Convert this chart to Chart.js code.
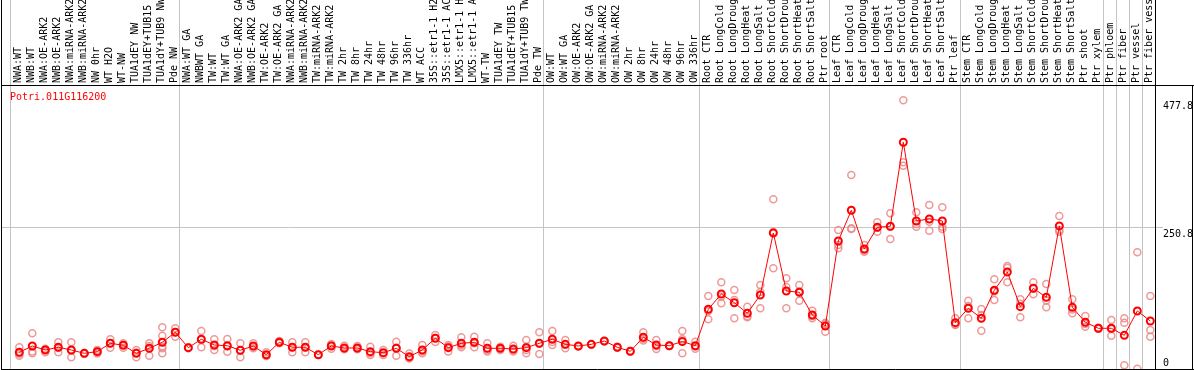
<!DOCTYPE html>
<html>
<head>
  <title>Potri.011G116200</title>
  <script src="https://cdn.jsdelivr.net/npm/chart.js"></script>
  <style>
    body { margin: 0; background: #fff; }
  </style>
</head>
<body>
  <canvas id="expr" width="1194" height="370"></canvas>
  <script>
    // sample names (as far as they are visible above the plot)
    const categories = [
      'NWA:WT', 'NWB:WT', 'NWA:OE-ARK2', 'NWB:OE-ARK2', 'NWA:miRNA-ARK2', 'NWB:miRNA-ARK2',
      'NW 0hr', 'WT H2O', 'WT-NW', 'TUA1dEY NW', 'TUA1dEY+TUB15', 'TUA1dY+TUB9 NW', 'Pde NW',
      'NWA:WT GA', 'NWBWT GA', 'TW:WT', 'TW:WT GA', 'NWA:OE-ARK2 GA', 'NWB:OE-ARK2 GA',
      'TW:OE-ARK2', 'TW:OE-ARK2 GA', 'NWA:miRNA-ARK2', 'NWB:miRNA-ARK2', 'TW:miRNA-ARK2',
      'TW:miRNA-ARK2', 'TW 2hr', 'TW 8hr', 'TW 24hr', 'TW 48hr', 'TW 96hr', 'TW 336hr',
      'WT ACC', '35S::etr1-1 H2', '35S::etr1-1 AC', 'LMX5::etr1-1 H', 'LMX5::etr1-1 A',
      'WT-TW', 'TUA1dEY TW', 'TUA1dEY+TUB15', 'TUA1dY+TUB9 TW', 'Pde TW',
      'OW:WT', 'OW:WT GA', 'OW:OE-ARK2', 'OW:OE-ARK2 GA', 'OW:miRNA-ARK2', 'OW:miRNA-ARK2',
      'OW 2hr', 'OW 8hr', 'OW 24hr', 'OW 48hr', 'OW 96hr', 'OW 336hr',
      'Root CTR', 'Root LongCold', 'Root LongDroug', 'Root LongHeat', 'Root LongSalt',
      'Root ShortCold', 'Root ShortDrou', 'Root ShortHeat', 'Root ShortSalt', 'Ptr root',
      'Leaf CTR', 'Leaf LongCold', 'Leaf LongDroug', 'Leaf LongHeat', 'Leaf LongSalt',
      'Leaf ShortCold', 'Leaf ShortDrou', 'Leaf ShortHeat', 'Leaf ShortSalt', 'Ptr leaf',
      'Stem CTR', 'Stem LongCold', 'Stem LongDroug', 'Stem LongHeat', 'Stem LongSalt',
      'Stem ShortCold', 'Stem ShortDrou', 'Stem ShortHeat', 'Stem ShortSalt', 'Ptr shoot',
      'Ptr xylem', 'Ptr phloem', 'Ptr fiber', 'Ptr vessel', 'Ptr fiber vess'
    ];

    // mean expression per sample
    const means = [
      29.7, 40.9, 33.8, 38.6, 33.8, 27.9, 30.8, 45.7, 42.2, 27.9,
      36.8, 47.5, 65.3, 37.9, 52.8, 42.7, 41.4, 33.3, 40.9, 25.4,
      47.5, 38.6, 38.6, 25.4, 40.9, 37.4, 37.4, 30.8, 29, 36.8,
      21.9, 33.8, 54.6, 37.9, 45.7, 47.5, 36.8, 36.8, 35.6, 37.9,
      45.7, 52.8, 43.9, 40.9, 43.9, 49.8, 38.6, 31.5, 56.4, 42.7,
      41.4, 49, 41.4, 106.3, 133.4, 117.9, 99.1, 131.6, 241.9, 138.7,
      136.4, 96, 76.5, 227.7, 282.3, 213.4, 252, 253.8, 403.2, 263.2,
      266.8, 263.2, 82.4, 108, 90.2, 140, 172.5, 110.8, 143.5, 127.5,
      254.4, 109.7, 83.1, 72.4, 72.4, 59.9, 103.2, 85.4
    ];

    // individual replicates per sample
    const replicates = [
      [38.6, 23.7, 27], [63.5, 27.9, 31], [36, 30, 35], [47.5, 29.7, 38], [47.5, 21, 33],
      [28.5, 27, 28], [34, 27.5, 31], [52.8, 38, 46], [45.7, 38, 43], [33.8, 20.8, 29],
      [45.7, 23.7, 41], [74.2, 59.2, 40, 36.8, 28], [72.4, 57.5, 66], [38.6, 37], [67.6, 38.6, 52],
      [52.8, 33.8, 41], [53.4, 30.8, 40], [45.7, 20.8, 33], [45.7, 36.8, 40], [29.7, 23.7, 23],
      [49.8, 45.7, 47], [47.5, 29.7, 38.6], [47.5, 29.7, 38.6], [26, 25], [44.5, 36, 42],
      [41.5, 35, 36], [41, 35, 36], [39.5, 24.9, 28], [33.8, 25, 28], [48.6, 23.7, 38],
      [27.5, 19, 19], [42.5, 27.9, 31], [60.5, 48, 55], [42.5, 31, 40], [56.4, 38.6, 42],
      [57.5, 38.6, 46], [45.7, 31, 34], [39.5, 33.8, 37], [41.5, 31, 34], [51.6, 27.9, 39.5, 33.8],
      [65.3, 26.5, 45], [67.6, 42.7, 48], [51.6, 36.8, 43], [41, 40], [44, 43],
      [50, 49], [39.5, 38], [32, 31], [65.3, 50.5, 54], [51.6, 35.6, 41],
      [42, 41], [67.6, 27.9, 53], [48.6, 36, 40], [129.8, 88.4, 103], [154.2, 116.9, 129],
      [140.5, 90.2, 122.7], [110.8, 92, 94], [149.4, 108, 137], [301.8, 179.1, 243.7], [161.3, 108, 145.9],
      [149.4, 121.5, 138], [103.7, 90.2, 94], [82.4, 66.3, 80], [247.2, 214.7, 220.6], [345.1, 250.3, 249],
      [220.6, 208.6, 211], [260.9, 244.2, 251], [276.9, 231.2, 253], [477.8, 367.6, 361.6], [278.7, 253.1, 258],
      [291.7, 246, 262], [287.6, 249, 253], [90.2, 78.3, 79], [121.5, 90.2, 112], [106.7, 68.1, 96],
      [159.5, 122.7, 138], [183.2, 154.2, 180], [124, 92, 116], [154.2, 132.9, 143], [151.2, 109.7, 122],
      [272.1, 244.2, 247], [124, 99.1, 106], [94.3, 75.2, 80], [73.5, 71.5, 72], [87.2, 59.2, 71],
      [90.2, 82.4, 6.6], [207.6, 0.5], [129.8, 69.4, 57.5]
    ];

    // where the sample groups are split by a vertical line
    const groupBreaks = [-0.7, 12.36, 40.36, 52.36, 62.36, 72.4, 83.38, 84.4, 85.4, 86.4];

    // value ticks on the right
    const yTicks = [0, 250.8, 477.8];
    const yTickLabels = ['0', '250.8', '477.8'];

    const geneName = 'Potri.011G116200';
    const mono = 'DejaVu Sans Mono';

    const meanPoints = means.map((v, i) => ({ x: i, y: v }));
    const repPoints = [];
    replicates.forEach((list, i) => list.forEach(v => repPoints.push({ x: i, y: v })));

    // frame lines round the plot and the gene name
    const framePlugin = {
      id: 'frame',
      afterDraw(chart) {
        const ctx = chart.ctx;
        const a = chart.chartArea;
        ctx.save();
        ctx.strokeStyle = '#000';
        ctx.lineWidth = 1;
        ctx.beginPath();
        ctx.moveTo(1.5, 0); ctx.lineTo(1.5, a.bottom + 0.5);
        ctx.moveTo(a.right + 0.5, 0); ctx.lineTo(a.right + 0.5, a.bottom + 0.5);
        ctx.moveTo(chart.width - 1.5, a.top); ctx.lineTo(chart.width - 1.5, a.bottom + 0.5);
        ctx.moveTo(1, a.top + 0.5); ctx.lineTo(chart.width, a.top + 0.5);
        ctx.moveTo(1, a.bottom + 0.5); ctx.lineTo(chart.width, a.bottom + 0.5);
        ctx.stroke();
        ctx.fillStyle = '#ff0000';
        ctx.font = '10px "' + mono + '"';
        ctx.textBaseline = 'middle';
        ctx.fillText(geneName, 10, a.top + 12);
        ctx.restore();
      }
    };

    const ctx = document.getElementById('expr').getContext('2d');
    new Chart(ctx, {
      type: 'line',
      data: {
        datasets: [
          {
            label: 'mean',
            data: meanPoints,
            borderColor: '#ff0000',
            borderWidth: 1,
            pointRadius: 3.5,
            pointBorderWidth: 2,
            pointBorderColor: '#ff0000',
            pointBackgroundColor: 'rgba(0,0,0,0)',
            tension: 0,
            order: 0
          },
          {
            type: 'scatter',
            label: 'replicates',
            data: repPoints,
            showLine: false,
            pointRadius: 3.5,
            pointBorderWidth: 1.5,
            pointBorderColor: 'rgba(235,135,135,0.85)',
            pointBackgroundColor: 'rgba(0,0,0,0)',
            order: 1
          }
        ]
      },
      options: {
        responsive: false,
        animation: false,
        layout: { autoPadding: false, padding: { left: 1, bottom: 1, top: 0, right: 0 } },
        plugins: {
          legend: { display: false },
          tooltip: { enabled: false }
        },
        scales: {
          x: {
            type: 'linear',
            position: 'top',
            min: -1.408,
            max: 87.36,
            afterBuildTicks: (s) => {
              s.ticks = categories.map((c, i) => ({ value: i }))
                .concat(groupBreaks.map(v => ({ value: v })));
            },
            afterFit: (s) => {
              s.height = 85;
              s.paddingLeft = 0;
              s.paddingRight = 0;
            },
            grid: {
              color: (c) => Number.isInteger(c.tick && c.tick.value) ? 'rgba(0,0,0,0)' : '#c4c4c4',
              lineWidth: 1,
              drawTicks: true,
              tickLength: 85
            },
            border: { display: true, color: '#000', width: 1 },
            ticks: {
              autoSkip: false,
              minRotation: 90,
              maxRotation: 90,
              padding: -83,
              labelOffset: 11,
              color: '#000',
              font: { family: mono, size: 10 },
              callback: (v) => Number.isInteger(v) ? categories[v] : ''
            }
          },
          y: {
            position: 'right',
            min: 0,
            max: 505,
            afterBuildTicks: (s) => { s.ticks = yTicks.map(v => ({ value: v })); },
            afterFit: (s) => {
              s.width = 39;
              s.paddingTop = 0;
              s.paddingBottom = 0;
            },
            grid: {
              color: (c) => (c.tick && c.tick.value === 250.8) ? '#c4c4c4' : 'rgba(0,0,0,0)',
              drawTicks: true,
              tickLength: 8
            },
            border: { display: true, color: '#000', width: 1 },
            ticks: {
              padding: 0,
              color: '#000',
              font: { family: mono, size: 10 },
              callback: (v) => {
                const label = yTickLabels[yTicks.indexOf(v)];
                return v === 0 ? [label, ''] : ['', label];
              }
            }
          }
        }
      },
      plugins: [framePlugin]
    });
  </script>
</body>
</html>
